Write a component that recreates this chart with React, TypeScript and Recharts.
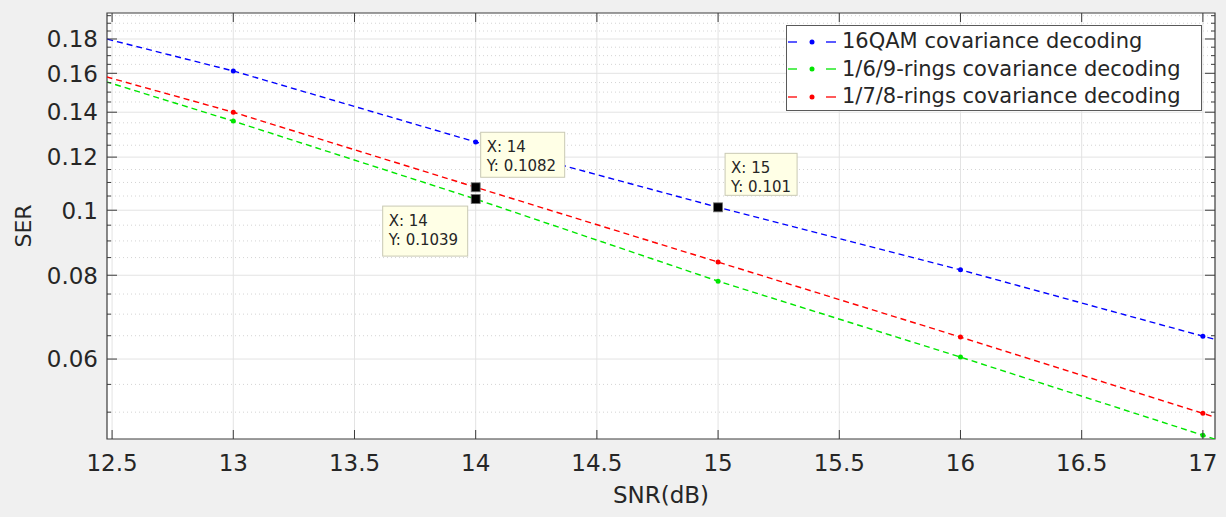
import React from 'react';
import {
  LineChart,
  Line,
  XAxis,
  YAxis,
  CartesianGrid,
  Legend,
  ReferenceArea
} from 'recharts';

// SNR points (12 and 18 only show as the line running off the axes)
const snr = [12, 13, 14, 15, 16, 17, 18];
const ser16qam = [0.199, 0.1613, 0.1264, 0.101, 0.0815, 0.0649, 0.0525];
const ser169 = [0.1757, 0.1358, 0.1039, 0.0784, 0.0604, 0.0462, 0.0353];
const ser178 = [0.1765, 0.14, 0.1082, 0.0837, 0.0647, 0.0498, 0.0383];

const seriesNames = [
  '16QAM covariance decoding',
  '1/6/9-rings covariance decoding',
  '1/7/8-rings covariance decoding'
];

const xTicks = [12.5, 13, 13.5, 14, 14.5, 15, 15.5, 16, 16.5, 17];
const yMajor = [0.06, 0.08, 0.1, 0.12, 0.14, 0.16, 0.18];
const yMinor = [
  0.05, 0.055, 0.065, 0.07, 0.075, 0.085, 0.09, 0.095, 0.105, 0.11, 0.115,
  0.125, 0.13, 0.135, 0.145, 0.15, 0.155, 0.165, 0.17, 0.175, 0.185, 0.19, 0.195
];

// data tips: which series, at which x
const tipSeries = ['r178', 'r169', 'qam'];
const tipX = [14, 14, 15];

const data = snr.map((x, i) => ({
  snr: x,
  qam: ser16qam[i],
  r169: ser169[i],
  r178: ser178[i]
}));

const W = 1226;
const H = 517;
const TOP = 13;
const X_AXIS_H = 78;
const Y_AXIS_W = 107;
const RIGHT = 11;
const PLOT_BOTTOM = H - X_AXIS_H;
const PLOT_RIGHT = W - RIGHT;
const X_DOMAIN: [number, number] = [12.479, 17.05];
const Y_DOMAIN: [number, number] = [0.0456, 0.1968];

const INK = '#262626';
const AXIS = '#3c3c3c';

const XTick = (props: any) => {
  const { x, y, payload } = props;
  return (
    <g>
      <line x1={x} x2={x} y1={PLOT_BOTTOM} y2={PLOT_BOTTOM - 9} stroke={AXIS} />
      <line x1={x} x2={x} y1={TOP} y2={TOP + 9} stroke={AXIS} />
      <text x={x} y={y} dy="0.71em" textAnchor="middle" fill={INK} fontSize={23}>
        {payload.value}
      </text>
    </g>
  );
};

const YTick = (props: any) => {
  const { x, y, payload } = props;
  const major = yMajor.includes(payload.value);
  const len = major ? 10 : 4;
  return (
    <g>
      <line x1={Y_AXIS_W} x2={Y_AXIS_W + len} y1={y} y2={y} stroke={AXIS} />
      <line x1={PLOT_RIGHT} x2={PLOT_RIGHT - len} y1={y} y2={y} stroke={AXIS} />
      {major && (
        <text x={x} y={y} dy="0.36em" textAnchor="end" fill={INK} fontSize={23}>
          {payload.value}
        </text>
      )}
    </g>
  );
};

// box offsets relative to the marked point
const tipBoxes = [
  { dx: 5, dy: -55, w: 84, h: 45 },
  { dx: -93, dy: 7, w: 85, h: 50 },
  { dx: 7, dy: -54, w: 72, h: 42 }
];

const makeDot = (key: string, color: string) => (p: any) => {
  const { cx, cy, payload, index } = p;
  if (cx == null || cy == null) return <g key={index} />;
  const t = tipSeries.findIndex((s, i) => s === key && tipX[i] === payload.snr);
  if (t < 0) {
    return <circle key={index} cx={cx} cy={cy} r={2.5} fill={color} />;
  }
  const b = tipBoxes[t];
  const left = cx + b.dx;
  const top = cy + b.dy;
  return (
    <g key={index}>
      <rect x={left} y={top} width={b.w} height={b.h} fill="#ffffe6" stroke="#c9c9b4" />
      <text x={left + 6} y={top + 20} fontSize={15} fill={INK}>{`X: ${payload.snr}`}</text>
      <text x={left + 6} y={top + 39} fontSize={15} fill={INK}>{`Y: ${payload[key]}`}</text>
      <rect x={cx - 4.5} y={cy - 4.5} width={9} height={9} fill="#000" stroke="#777" strokeWidth={0.8} />
    </g>
  );
};

const LegendBox = ({ payload }: any) => {
  const items = [...(payload || [])].sort(
    (a: any, b: any) => seriesNames.indexOf(a.value) - seriesNames.indexOf(b.value)
  );
  return (
    <div
      style={{
        background: '#fff',
        border: '1px solid #5a5a5a',
        width: 416,
        height: 86,
        boxSizing: 'border-box',
        paddingTop: 2
      }}
    >
      {items.map((e: any) => (
        <div key={e.value} style={{ display: 'flex', alignItems: 'center', height: 27.5 }}>
          <svg width={55} height={12} style={{ flex: 'none' }}>
            <line x1={1} x2={10} y1={6} y2={6} stroke={e.color} strokeWidth={1.3} />
            <circle cx={25} cy={6} r={2.5} fill={e.color} />
            <line x1={39} x2={49} y1={6} y2={6} stroke={e.color} strokeWidth={1.3} />
          </svg>
          <span style={{ fontSize: 21, color: INK, whiteSpace: 'nowrap', lineHeight: '27px' }}>{e.value}</span>
        </div>
      ))}
    </div>
  );
};

const SerLabel = ({ viewBox }: any) => {
  const x = viewBox.x + 23;
  const y = viewBox.y + viewBox.height / 2;
  return (
    <text x={x} y={y} transform={`rotate(-90 ${x} ${y})`} textAnchor="middle" dominantBaseline="central" fill={INK} fontSize={22}>
      SER
    </text>
  );
};

const lineDefs = [
  { key: 'qam', color: '#0000ff' },
  { key: 'r169', color: '#00e600' },
  { key: 'r178', color: '#ff0000' }
];

export default function App() {
  return (
    <div
      style={{
        position: 'absolute',
        left: 0,
        top: 0,
        width: W,
        height: H,
        background: '#f0f0f0',
        fontFamily: '"DejaVu Sans", sans-serif'
      }}
    >
      <LineChart width={W} height={H} data={data} margin={{ top: TOP, right: RIGHT, bottom: 0, left: 0 }}>
        <CartesianGrid
          fill="#fff"
          stroke="#e3e3e3"
          horizontalValues={yMajor}
          verticalValues={xTicks}
        />
        <CartesianGrid
          stroke="#d4d4d4"
          strokeDasharray="1 3"
          vertical={false}
          horizontalValues={yMinor}
        />
        <XAxis
          dataKey="snr"
          type="number"
          domain={X_DOMAIN}
          allowDataOverflow
          ticks={xTicks}
          interval={0}
          height={X_AXIS_H}
          axisLine={false}
          tickLine={false}
          tickSize={0}
          tickMargin={16}
          tick={<XTick />}
          label={{ value: 'SNR(dB)', position: 'insideBottom', offset: 14, fill: INK, fontSize: 23 }}
        />
        <YAxis
          type="number"
          scale="log"
          domain={Y_DOMAIN}
          allowDataOverflow
          ticks={[...yMinor, ...yMajor].sort((a, b) => a - b)}
          interval={0}
          width={Y_AXIS_W}
          axisLine={false}
          tickLine={false}
          tickSize={0}
          tickMargin={9}
          tick={<YTick />}
          label={{ value: 'SER', content: <SerLabel /> }}
        />
        <ReferenceArea
          x1={X_DOMAIN[0]}
          x2={X_DOMAIN[1]}
          y1={Y_DOMAIN[0]}
          y2={Y_DOMAIN[1]}
          fill="none"
          stroke={AXIS}
          strokeWidth={1.2}
          ifOverflow="visible"
        />
        {lineDefs.map((d, i) => (
          <Line
            key={d.key}
            type="linear"
            dataKey={d.key}
            name={seriesNames[i]}
            stroke={d.color}
            strokeWidth={1.4}
            strokeDasharray="6 4"
            dot={makeDot(d.key, d.color)}
            activeDot={false}
            isAnimationActive={false}
          />
        ))}
        <Legend
          layout="vertical"
          verticalAlign="middle"
          align="center"
          content={<LegendBox />}
          wrapperStyle={{ top: 25, left: 786, width: 416, height: 86 }}
        />
      </LineChart>
    </div>
  );
}
